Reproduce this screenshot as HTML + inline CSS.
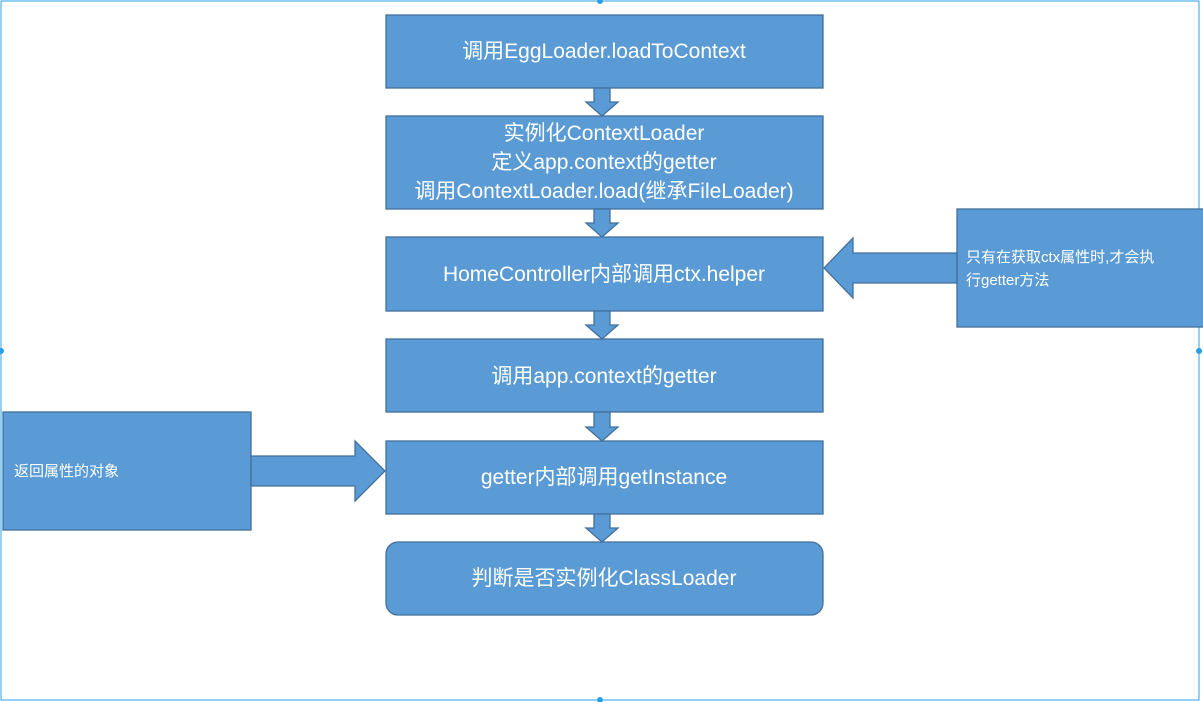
<!DOCTYPE html>
<html><head><meta charset="utf-8"><style>
html,body{margin:0;padding:0;background:#fff;width:1203px;height:702px;overflow:hidden}
svg{display:block}
text{font-family:"Liberation Sans","Noto Sans CJK SC",sans-serif;fill:#fff}
</style></head><body>
<svg width="1203" height="702" viewBox="0 0 1203 702" xmlns="http://www.w3.org/2000/svg">
<rect x="1" y="1" width="1198" height="699" fill="none" stroke="#2aa0e8" stroke-width="1"/>
<g fill="#2aa0e8"><circle cx="1" cy="351" r="3"/><circle cx="1199" cy="351" r="3"/><circle cx="600" cy="700" r="3"/><circle cx="600" cy="1" r="3"/></g>
<g fill="#5b9bd5" stroke="#41719c" stroke-width="1.3">
<rect x="386" y="15" width="437" height="73"/>
<rect x="386" y="116" width="437" height="93"/>
<rect x="386" y="237" width="437" height="74"/>
<rect x="386" y="339" width="437" height="73"/>
<rect x="386" y="441" width="437" height="73"/>
<rect x="386" y="542" width="437" height="73" rx="12"/>
<polygon points="594,88 610,88 610,102 618,102 602,116 586,102 594,102"/>
<polygon points="594,209 610,209 610,223 618,223 602,237 586,223 594,223"/>
<polygon points="594,311 610,311 610,325 618,325 602,339 586,325 594,325"/>
<polygon points="594,412 610,412 610,427 618,427 602,441 586,427 594,427"/>
<polygon points="594,514 610,514 610,528 618,528 602,542 586,528 594,528"/>
<rect x="957" y="209" width="250" height="118"/>
<polygon points="957,253 853,253 853,238 824,268 853,298 853,283 957,283"/>
<rect x="3" y="412" width="248" height="118"/>
<polygon points="251,456 355,456 355,441 385,471 355,501 355,486 251,486"/>
</g>
<g font-size="21" text-anchor="middle">
<text x="604" y="58">调用EggLoader.loadToContext</text>
<text x="604" y="140">实例化ContextLoader</text>
<text x="604" y="169">定义app.context的getter</text>
<text x="604" y="198">调用ContextLoader.load(继承FileLoader)</text>
<text x="604" y="281">HomeController内部调用ctx.helper</text>
<text x="604" y="383">调用app.context的getter</text>
<text x="604" y="484">getter内部调用getInstance</text>
<text x="604" y="585">判断是否实例化ClassLoader</text>
</g>
<g font-size="15">
<text x="966" y="262">只有在获取ctx属性时,才会执</text>
<text x="966" y="285">行getter方法</text>
<text x="14" y="476">返回属性的对象</text>
</g>
</svg>
</body></html>
